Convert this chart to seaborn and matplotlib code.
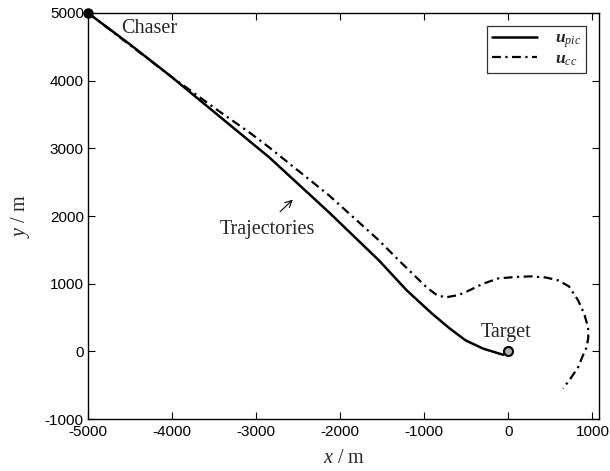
import matplotlib
matplotlib.use("Agg")
import matplotlib.pyplot as plt
import seaborn as sns
import pandas as pd

# Trajectory under the proposed controller (u_pic)
pic_x = [-5000, -4500, -4028, -3500, -2844, -2133, -1540, -1209, -912, -700, -509, -300, -118, -60]
pic_y = [5000, 4535, 4077, 3537, 2866, 2053, 1344, 901, 561, 340, 162, 40, -30, -50]

# Trajectory under the comparison controller (u_cc)
cc_x = [-5000, -4500, -4028, -3500, -3081, -2844, -2133, -1540, -1303, -972, -850, -746,
        -600, -500, -300, -118, 100, 272, 450, 592, 720, 829, 900, 948, 950, 930, 880, 829, 740, 652]
cc_y = [5000, 4525, 4077, 3600, 3235, 3013, 2304, 1640, 1344, 945, 830, 798,
        830, 880, 1000, 1078, 1100, 1108, 1090, 1049, 960, 753, 560, 355, 200, 59, -80, -236, -400, -547]

chaser = (-5000, 5000)
target = (0, 0)

x_ticks = [-5000, -4000, -3000, -2000, -1000, 0, 1000]
y_ticks = [-1000, 0, 1000, 2000, 3000, 4000, 5000]

sns.set_theme(style="white")
plt.rcParams.update({
    "font.family": ["Liberation Sans", "DejaVu Sans"],
    "axes.unicode_minus": False,
    "mathtext.fontset": "custom",
    "mathtext.rm": "Liberation Serif",
    "mathtext.it": "Liberation Serif:italic",
    "mathtext.bf": "Liberation Serif:bold",
    "mathtext.bfit": "Liberation Serif:bold:italic",
})

fig = plt.figure(figsize=(6.1, 4.71), dpi=100)
ax = fig.add_axes([0.1443, 0.1104, 0.838, 0.862])

pic = pd.DataFrame({"x": pic_x, "y": pic_y})
cc = pd.DataFrame({"x": cc_x, "y": cc_y})

sns.lineplot(data=pic, x="x", y="y", sort=False, estimator=None, ax=ax,
             color="black", linewidth=1.8, label=r"$\mathbfit{u}_{pic}$")
sns.lineplot(data=cc, x="x", y="y", sort=False, estimator=None, ax=ax,
             color="black", linewidth=1.6, linestyle=(0, (4, 2, 1, 2)),
             label=r"$\mathbfit{u}_{cc}$")

ax.plot([chaser[0]], [chaser[1]], "o", color="black", markersize=6.5, clip_on=False, zorder=5)
ax.plot([target[0]], [target[1]], "o", markerfacecolor="#b0b0b0", markeredgecolor="black",
        markeredgewidth=1.5, markersize=6.5, zorder=5)

serif = ["Liberation Serif", "DejaVu Serif"]
ax.text(-4610, 4770, "Chaser", fontsize=14.5, family=serif, va="center", ha="left")
ax.text(-3430, 1800, "Trajectories", fontsize=14.5, family=serif, va="center", ha="left")
ax.text(-330, 280, "Target", fontsize=14.5, family=serif, va="center", ha="left")
ax.annotate("", xy=(-2540, 2270), xytext=(-2740, 2035),
            arrowprops=dict(arrowstyle="->", color="black", lw=0.8))

ax.set_xlim(-5000, 1080)
ax.set_ylim(-1000, 5000)
ax.set_xticks(x_ticks)
ax.set_yticks(y_ticks)
ax.set_xticklabels([str(v) for v in x_ticks])
ax.set_yticklabels([str(v) for v in y_ticks])
ax.tick_params(direction="in", length=5, width=0.8, labelsize=11, colors="black",
               top=True, right=True, bottom=True, left=True, pad=3)
ax.tick_params(axis="x", pad=4.5)

for s in ax.spines.values():
    s.set_color("black")
    s.set_linewidth(1.0)

ax.set_xlabel(r"$x$ / m", fontsize=14.5, family=serif, labelpad=7)
ax.set_ylabel(r"$y$ / m", fontsize=14.5, family=serif, labelpad=9)

leg = ax.legend(loc="upper right", fontsize=12.5, frameon=True, fancybox=False,
                edgecolor="black", handlelength=2.6, borderpad=0.28,
                labelspacing=0.05, handletextpad=1.0, borderaxespad=0.75)
leg.get_frame().set_linewidth(0.9)

fig.savefig("out.png", dpi=100)
